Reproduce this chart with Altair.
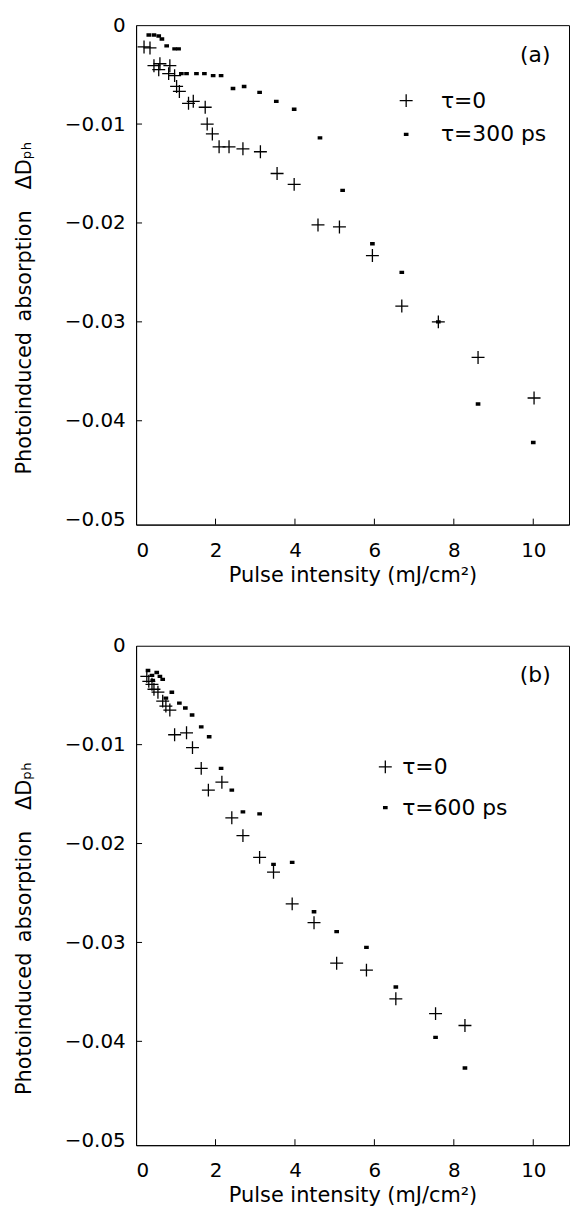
import altair as alt
import pandas as pd

FONT = "DejaVu Sans"

# ---------------- data ----------------
# panel (a)
a_t0_x = [0.20, 0.35, 0.45, 0.57, 0.60, 0.82, 0.85, 0.97, 1.02, 1.09, 1.32, 1.44, 1.74, 1.79,
          1.92, 2.09, 2.34, 2.69, 3.13, 3.55, 3.98, 4.58, 5.12, 5.95, 6.69, 7.61, 8.61, 10.02]
a_t0_y = [-0.0022, -0.0023, -0.0041, -0.0045, -0.0039, -0.0049, -0.0041, -0.0051, -0.0062, -0.0067,
          -0.0079, -0.0077, -0.0083, -0.0100, -0.0110, -0.0123, -0.0123, -0.0125, -0.0128, -0.0150,
          -0.0161, -0.0202, -0.0204, -0.0233, -0.0284, -0.0300, -0.0336, -0.0377]
a_t1_x = [0.32, 0.45, 0.57, 0.65, 0.77, 0.97, 1.07, 1.14, 1.27, 1.52, 1.72, 1.94, 2.14, 2.44,
          2.72, 3.11, 3.53, 3.98, 4.63, 5.20, 5.95, 6.69, 7.61, 8.61, 10.00]
a_t1_y = [-0.0010, -0.0010, -0.0011, -0.0014, -0.0021, -0.0024, -0.0024, -0.0049, -0.0049, -0.0049,
          -0.0049, -0.0051, -0.0051, -0.0064, -0.0062, -0.0068, -0.0077, -0.0085, -0.0114, -0.0167,
          -0.0221, -0.0250, -0.0300, -0.0383, -0.0422]
# panel (b)
b_t0_x = [0.27, 0.32, 0.40, 0.45, 0.55, 0.67, 0.75, 0.85, 0.97, 1.27, 1.42, 1.64, 1.82, 2.16,
          2.41, 2.69, 3.11, 3.46, 3.93, 4.48, 5.05, 5.80, 6.54, 7.54, 8.28]
b_t0_y = [-0.0031, -0.0036, -0.0039, -0.0044, -0.0047, -0.0056, -0.0061, -0.0065, -0.0090, -0.0088,
          -0.0103, -0.0124, -0.0146, -0.0138, -0.0174, -0.0192, -0.0214, -0.0229, -0.0261, -0.0280,
          -0.0321, -0.0328, -0.0357, -0.0372, -0.0384]
b_t1_x = [0.30, 0.40, 0.42, 0.52, 0.60, 0.67, 0.75, 0.90, 1.09, 1.24, 1.41, 1.64, 1.84, 2.14,
          2.41, 2.69, 3.11, 3.46, 3.93, 4.48, 5.05, 5.80, 6.54, 7.54, 8.28]
b_t1_y = [-0.0025, -0.0030, -0.0035, -0.0027, -0.0031, -0.0034, -0.0053, -0.0047, -0.0058, -0.0063,
          -0.0070, -0.0082, -0.0092, -0.0124, -0.0146, -0.0168, -0.0170, -0.0221, -0.0219, -0.0269,
          -0.0289, -0.0305, -0.0345, -0.0396, -0.0427]

x_ticks = [0, 2, 4, 6, 8, 10]
y_ticks = [0, -0.01, -0.02, -0.03, -0.04, -0.05]
x_inner_ticks = [2, 4, 6, 8, 10]
y_inner_ticks = [-0.01, -0.02, -0.03, -0.04]

X_TITLE = "Pulse intensity (mJ/cm\u00b2)"
Y_TITLE = "Photoinduced\u2002absorption\u2003\u0394D\u209a\u2095"

W, H = 436, 503
PLUS = "M-1,0H1M0,-1V1"
# small solid square drawn with stroked lines (reads as a dot)
DOT = "M-0.36,-0.16H0.36M-0.36,0H0.36M-0.36,0.16H0.36"

x_axis = alt.Axis(values=x_ticks, tickSize=0, labelPadding=16, title=X_TITLE,
                  titlePadding=4, grid=False, labelFont=FONT, titleFont=FONT,
                  labelFontSize=20, titleFontSize=21, titleFontWeight="normal",
                  labelColor="black", titleColor="black", domainColor="black")
y_axis = alt.Axis(values=y_ticks, tickSize=0, labelPadding=11, title=Y_TITLE,
                  labelExpr="datum.value == 0 ? '0' : format(datum.value, '.2f')",
                  titleAngle=270, titleAlign="left", titleBaseline="alphabetic",
                  titleX=-106, titleY=452, grid=False, labelFont=FONT, titleFont=FONT,
                  labelFontSize=20, titleFontSize=21, titleFontWeight="normal",
                  labelColor="black", titleColor="black", domainColor="black")
x_scale = alt.Scale(domain=[0, 10.9], nice=False, zero=False)
y_scale = alt.Scale(domain=[-0.0505, 0], nice=False, zero=False)


def panel(tag, x0, y0, x1, y1, lab0, lab1, lx, ly, loff, rpad):
    df = pd.DataFrame({
        "x": list(x0) + list(x1),
        "y": list(y0) + list(y1),
        "s": [lab0] * len(x0) + [lab1] * len(x1),
    })
    pts = alt.Chart(df).mark_point(filled=False, color="black",
                                   strokeWidth=1.3, opacity=1, size=170).encode(
        x=alt.X("x:Q", scale=x_scale, axis=x_axis),
        y=alt.Y("y:Q", scale=y_scale, axis=y_axis),
        shape=alt.Shape("s:N", scale=alt.Scale(domain=[lab0, lab1], range=[PLUS, DOT]),
                        legend=alt.Legend(title=None, orient="none", legendX=lx, legendY=ly,
                                          labelFont=FONT, labelFontSize=22, labelColor="black",
                                          symbolSize=170, symbolStrokeWidth=1.3,
                                          symbolStrokeColor="black",
                                          labelOffset=loff, rowPadding=rpad, padding=0)),
    )
    xt = alt.Chart(pd.DataFrame({"x": x_inner_ticks})).mark_rule(color="black", strokeWidth=1).encode(
        x=alt.X("x:Q", scale=x_scale, axis=x_axis),
        y=alt.value(H), y2=alt.value(H - 6),
    )
    yt = alt.Chart(pd.DataFrame({"y": y_inner_ticks})).mark_rule(color="black", strokeWidth=1).encode(
        y=alt.Y("y:Q", scale=y_scale, axis=y_axis),
        x=alt.value(0), x2=alt.value(6),
    )
    lbl = alt.Chart(pd.DataFrame({"t": [tag]})).mark_text(
        font=FONT, fontSize=22, color="black", align="center", baseline="middle").encode(
        text="t:N", x=alt.value(402), y=alt.value(30),
    )
    return alt.layer(pts, xt, yt, lbl).properties(width=W, height=H)


pa = panel("(a)", a_t0_x, a_t0_y, a_t1_x, a_t1_y, "\u03c4=0", "\u03c4=300 ps", 261, 65, 24, 12)
pb = panel("(b)", b_t0_x, b_t0_y, b_t1_x, b_t1_y, "\u03c4=0", "\u03c4=600 ps", 240, 111, 6, 19)

chart = alt.vconcat(pa, pb, spacing=122, bounds="flush").resolve_scale(shape="independent").properties(
    padding={"left": 5, "top": 2, "right": 0, "bottom": 0}
).configure_view(stroke="black", strokeWidth=1)

chart.save("out.html", embed_options={"renderer": "svg", "actions": False})
